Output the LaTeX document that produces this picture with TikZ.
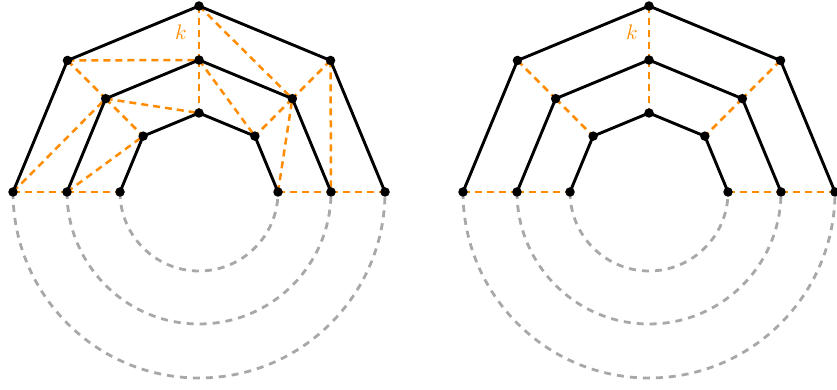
\documentclass[tikz,border=0pt]{standalone}
\usepackage{tikz}
\usepackage{graphicx}
\definecolor{korange}{HTML}{FF8C00}
\definecolor{kgray}{HTML}{A8A8A8}
\tikzset{
  poly/.style={black, line width=2.9pt, line join=round},
  oedge/.style={korange, line width=2.5pt, dash pattern=on 7pt off 5pt},
  garc/.style={kgray, line width=2.8pt, dash pattern=on 7pt off 6pt},
  dot/.style={circle, fill=black, inner sep=0pt, minimum size=9.5pt},
  klabel/.style={text=korange, inner sep=0pt}
}
\newcommand{\klab}{\scalebox{2.1}{$k$}}
\begin{document}
\begin{tikzpicture}[x=1pt,y=1pt]
\useasboundingbox (0,0) rectangle (837,390);
% vertices
\foreach \f/\cx in {L/199, R/649} {
  \foreach \r/\n in {186/O, 132/M, 79/I} {
    \foreach \i in {0,...,4} {
      \coordinate (\f\n\i) at ({\cx + \r*cos(180-45*\i)}, {198 + \r*sin(180-45*\i)});
    }
  }
}
% gray arcs
\foreach \f in {L,R} {
  \draw[garc] (\f O0) arc[start angle=180, end angle=360, radius=186pt];
  \draw[garc] (\f M0) arc[start angle=180, end angle=360, radius=132pt];
  \draw[garc] (\f I0) arc[start angle=180, end angle=360, radius=79pt];
}
% orange edges common
\foreach \f in {L,R} {
  \draw[oedge] (\f O0) -- (\f M0);
  \draw[oedge] (\f M0) -- (\f I0);
  \draw[oedge] (\f I4) -- (\f M4);
  \draw[oedge] (\f M4) -- (\f O4);
  \draw[oedge] (\f O2) -- (\f M2);
  \draw[oedge] (\f M2) -- (\f I2);
}
% left figure extra orange edges
\draw[oedge] (LO1) -- (LM2);
\draw[oedge] (LO1) -- (LM1);
\draw[oedge] (LM1) -- (LI2);
\draw[oedge] (LM1) -- (LI1);
\draw[oedge] (LO0) -- (LM1);
\draw[oedge] (LM0) -- (LI1);
\draw[oedge] (LO2) -- (LM3);
\draw[oedge] (LM2) -- (LI3);
\draw[oedge] (LM3) -- (LI3);
\draw[oedge] (LO3) -- (LM3);
\draw[oedge] (LI4) -- (LM3);
\draw[oedge] (LO3) -- (LM4);
% right figure extra orange edges
\draw[oedge] (RO1) -- (RM1);
\draw[oedge] (RM1) -- (RI1);
\draw[oedge] (RO3) -- (RM3);
\draw[oedge] (RM3) -- (RI3);
% black polygons
\foreach \f in {L,R} {
  \foreach \n in {O,M,I} {
    \draw[poly] (\f\n0) -- (\f\n1) -- (\f\n2) -- (\f\n3) -- (\f\n4);
  }
}
% dots
\foreach \f in {L,R} {
  \foreach \n in {O,M,I} {
    \foreach \i in {0,...,4} {
      \node[dot] (\f\n\i d) at (\f\n\i) {};
    }
  }
}
% labels
\node[klabel] (Lk) at (181,358) {\klab};
\node[klabel] (Rk) at (632,358) {\klab};
\end{tikzpicture}
\end{document}
